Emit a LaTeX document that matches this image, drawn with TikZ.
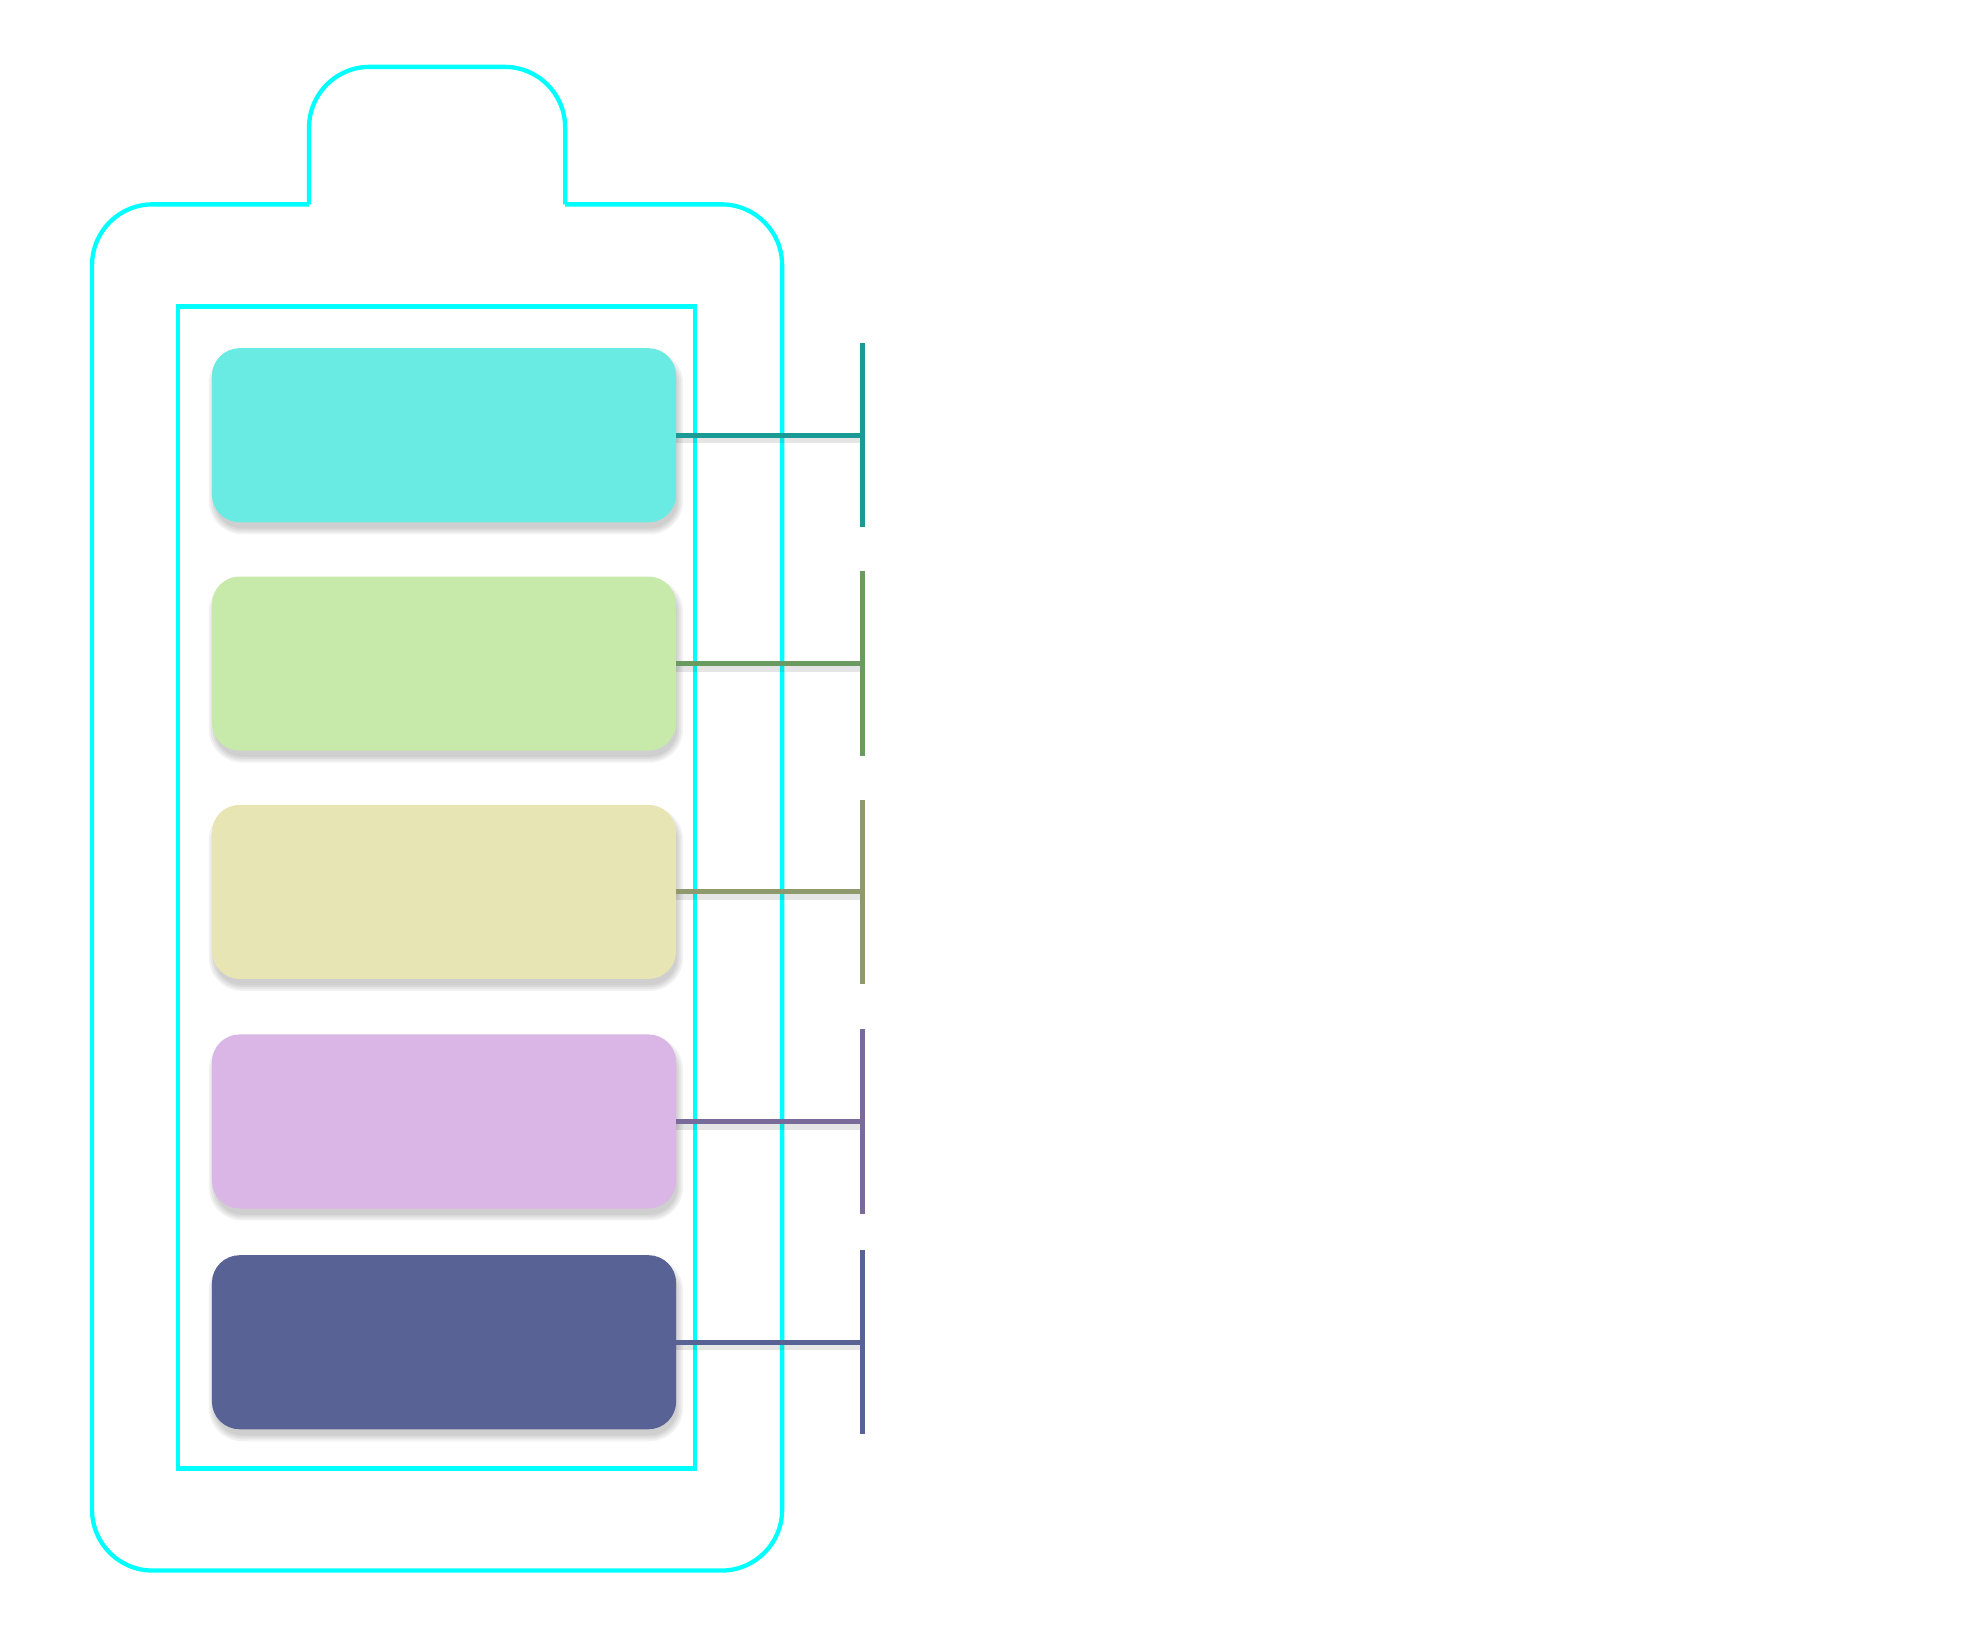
\documentclass[tikz,border=0pt]{standalone}
\usetikzlibrary{calc}
\definecolor{outl}{HTML}{00FFFF}
\definecolor{cA}{HTML}{69EBE4}
\definecolor{cB}{HTML}{C7EAAB}
\definecolor{cC}{HTML}{E8E5B5}
\definecolor{cD}{HTML}{DAB6E6}
\definecolor{cE}{HTML}{586294}
\definecolor{kA}{HTML}{1A9A94}
\definecolor{kB}{HTML}{6A9A60}
\definecolor{kC}{HTML}{8E9A6E}
\definecolor{kD}{HTML}{7A6A9A}
\definecolor{kE}{HTML}{586294}
\begin{document}
\begin{tikzpicture}[x=1pt,y=-1pt,
  outline/.style={draw=outl,line width=3.4pt},
  bar/.style={minimum width=368pt,minimum height=138pt,rounded corners=22pt,inner sep=0pt},
  link/.style={line width=4pt},
  shd/.style={line width=5pt,draw=black,opacity=0.10}]
\useasboundingbox (0,0) rectangle (1568,1300);
% battery outline
\draw[outline,rounded corners=48pt] (245,162) -- (73,162) -- (73,1245) -- (620,1245) -- (620,162) -- (448,162);
\draw[outline,rounded corners=48pt] (245,162) -- (245,53) -- (448,53) -- (448,162);
\draw[outline] (141,243) rectangle (551,1164);
% soft shadows under the boxes
\foreach \y in {345,526,707,889,1064}{
  \foreach \k in {0,1.5,3,4.5}{
    \fill[black,opacity=0.05,rounded corners={22+\k}] (168-\k+2,\y-69+6-\k) rectangle (536+\k+1,\y+69+5+\k);
  }
}
% boxes
\node[bar,fill=cA] (b1) at (352,345) {};
\node[bar,fill=cB] (b2) at (352,526) {};
\node[bar,fill=cC] (b3) at (352,707) {};
\node[bar,fill=cD] (b4) at (352,889) {};
\node[bar,fill=cE] (b5) at (352,1064) {};
% connectors
\foreach \i/\c in {1/kA,2/kB,3/kC,4/kD,5/kE}{
  \coordinate (t\i) at (b\i.east -| 684,0);
  \coordinate (u\i) at ($(t\i)+(0,-73)$);
  \coordinate (d\i) at ($(t\i)+(0,73)$);
  \draw[shd] ([yshift=-4pt]b\i.east) -- ([yshift=-4pt]t\i);
  \draw[link,draw=\c] (b\i.east) -- (t\i);
  \draw[link,draw=\c] (u\i) -- (d\i);
}
\end{tikzpicture}
\end{document}
